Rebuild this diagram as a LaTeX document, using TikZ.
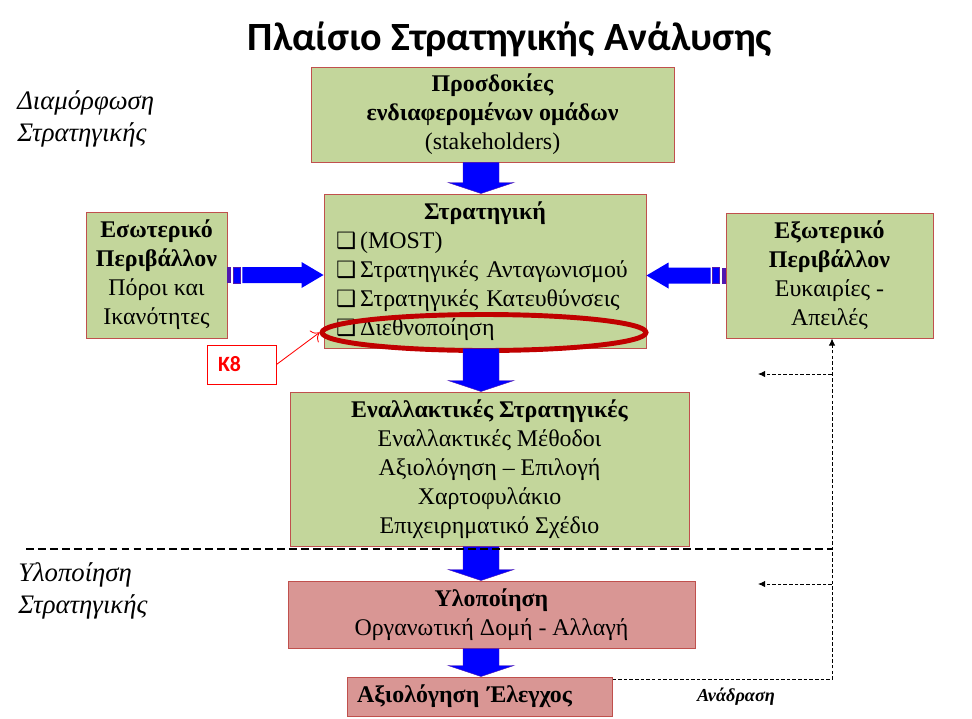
\documentclass[tikz,border=0pt]{standalone}
\usepackage{fontspec}
\setmainfont{Liberation Serif}
\newfontfamily\calfont{Carlito}
\newfontfamily\symfont{DejaVu Sans}
\usetikzlibrary{calc,arrows.meta,shapes.geometric}

\definecolor{boxgreen}{HTML}{C3D69B}
\definecolor{boxpink}{HTML}{D99694}
\definecolor{boxedge}{HTML}{C0504D}
\definecolor{ringred}{HTML}{C00000}
\definecolor{arrowblue}{HTML}{0000FF}
\definecolor{stripe}{HTML}{5018B0}

\def\pxu{0.025cm}
\newcommand\boxfont{\fontsize{17}{20.6}\selectfont}
\newcommand\chk{{\symfont\bfseries\fontsize{16}{16}\selectfont ❑}\,}
\def\blockdown(#1)(#2){\fill[arrowblue, draw=stripe, line width=0.3pt] ($(#1)+(-18,0)$) -- ($(#2)+(-18,-11)$) -- ($(#2)+(-33,-11)$) -- (#2) -- ($(#2)+(33,-11)$) -- ($(#2)+(18,-11)$) -- ($(#1)+(18,0)$) -- cycle;}
\def\blockside(#1)(#2)#3{\fill[stripe] ($(#1)+(0,-8)$) rectangle ($(#1)+({#3*4},8)$);
	\fill[arrowblue, draw=stripe, line width=0.5pt] ($(#1)+({#3*6},-8)$) rectangle ($(#1)+({#3*13},8)$);
	\fill[arrowblue] ($(#1)+({#3*15},-8)$) -- ($(#1 -| #2)+({#3*(-22)},-8)$) -- ($(#1 -| #2)+({#3*(-22)},-13)$) -- (#1 -| #2) -- ($(#1 -| #2)+({#3*(-22)},13)$) -- ($(#1 -| #2)+({#3*(-22)},8)$) -- ($(#1)+({#3*15},8)$) -- cycle;}

\tikzset{
	greenbox/.style={draw=boxedge, fill=boxgreen, line width=0.7pt, align=center, font=\boxfont, inner sep=0pt},
	pinkbox/.style={greenbox, fill=boxpink},
	boxsize/.style 2 args={minimum width=#1*\pxu, minimum height=#2*\pxu},
	phase/.style={anchor=west, align=left, inner sep=0pt, font=\fontsize{19}{22.8}\selectfont\itshape},
	feedback/.style={line width=0.6pt, dash pattern=on 2.5pt off 1.5pt},
	fbhead/.style={-{Latex[length=5pt, width=4.5pt]}},
	divider/.style={line width=1.4pt, dash pattern=on 5.5pt off 3pt}
}

\begin{document}
\begin{tikzpicture}[x=0.025cm, y=-0.025cm]
	\useasboundingbox (0,0) rectangle (972,718);

	\node[inner sep=0pt, font=\calfont\bfseries\fontsize{28.5}{32}\selectfont] (title) at (510,39) {Πλαίσιο Στρατηγικής Ανάλυσης};

	\node[phase] (form) at (17,119) {Διαμόρφωση\\Στρατηγικής};
	\node[phase] (impl lab) at (18,591) {Υλοποίηση\\Στρατηγικής};

	\node[greenbox, boxsize={363}{95}] (stake) at (492.5,114.5) {\textbf{Προσδοκίες}\\\textbf{ενδιαφερομένων ομάδων}\\(stakeholders)};
	\node[greenbox, boxsize={322}{154}, text width=298*\pxu, align=left] (strat) at (485,271) {\makebox[\linewidth]{\textbf{Στρατηγική}}\\\chk(MOST)\\\chk Στρατηγικές Ανταγωνισμού\\\chk Στρατηγικές Κατευθύνσεις\\\chk Διεθνοποίηση};
	\node[greenbox, boxsize={141}{126}] (inner) at (156.5,275) {\textbf{Εσωτερικό}\\\textbf{Περιβάλλον}\\Πόροι και\\Ικανότητες};
	\node[greenbox, boxsize={207}{125}] (ext) at (829.5,275.5) {\textbf{Εξωτερικό}\\\textbf{Περιβάλλον}\\Ευκαιρίες -\\Απειλές};
	\node[greenbox, boxsize={399}{154}] (alt) at (489.5,469) {\textbf{Εναλλακτικές Στρατηγικές}\\Εναλλακτικές Μέθοδοι\\Αξιολόγηση – Επιλογή\\Χαρτοφυλάκιο\\Επιχειρηματικό Σχέδιο};
	\node[pinkbox, boxsize={407}{67}] (impl) at (491.5,614.5) {\textbf{Υλοποίηση}\\Οργανωτική Δομή - Αλλαγή};
	\node[pinkbox, boxsize={265}{39}, text width=245*\pxu, align=left] (eval) at (479.5,696.5) {\textbf{Αξιολόγηση Έλεγχος}};

	\node[draw=ringred, line width=3.5pt, ellipse, boxsize={324}{36}, inner sep=0pt] (ring) at (484,332.5) {};

	\node[draw=red, fill=white, line width=0.7pt, boxsize={69}{39}, inner sep=0pt, text width=47*\pxu, align=left, text=red, font=\calfont\bfseries\fontsize{15.5}{18}\selectfont] (k8) at (241.5,364.5) {K8};
	\draw[red, line width=0.6pt, -{To[length=5pt]}] (k8.east) -- (ring.west);

	\coordinate (spine) at (481,0);
	\blockdown(spine |- stake.south)(spine |- strat.north)
	\blockdown(spine |- strat.south)(spine |- alt.north)
	\blockdown(spine |- alt.south)(spine |- impl.north)
	\blockdown(spine |- impl.south)(spine |- eval.north)
	\blockside(inner.east)(strat.west){1}
	\blockside(ext.west)(strat.east){-1}

	\draw[divider] (26,549) -- (832,549);

	\coordinate (fbx) at (832,0);
	\coordinate (fb1) at (758,374);
	\coordinate (fb2) at (758,584);
	\draw[feedback, fbhead] ($(eval.north east)+(0,3)$) -| (fbx |- ext.south);
	\draw[feedback, fbhead] (fbx |- fb1) -- (fb1);
	\draw[feedback, fbhead] (fbx |- fb2) -- (fb2);
	\node[font=\fontsize{13}{15}\selectfont\bfseries\itshape] (fbtext) at (736,697) {Ανάδραση};
\end{tikzpicture}
\end{document}
